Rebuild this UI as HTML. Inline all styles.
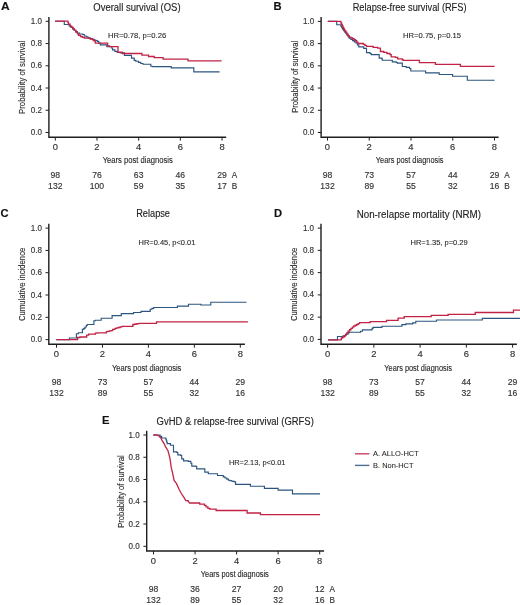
<!DOCTYPE html>
<html><head><meta charset="utf-8"><style>
html,body{margin:0;padding:0;background:#fff;overflow:hidden;}
svg{display:block;font-family:"Liberation Sans", sans-serif;filter:blur(0.4px);}
text{stroke:currentColor;stroke-width:0.14px;}
</style></head><body>
<svg width="520" height="605" viewBox="0 0 520 605">
<rect width="520" height="605" fill="#fff"/>
<text x="1.10" y="9.80" font-size="11.2" text-anchor="start" font-weight="bold" fill="#111" color="#111" textLength="8.70" lengthAdjust="spacingAndGlyphs">A</text>
<text x="273.60" y="10.00" font-size="11.2" text-anchor="start" font-weight="bold" fill="#111" color="#111">B</text>
<text x="0.60" y="216.90" font-size="11.2" text-anchor="start" font-weight="bold" fill="#111" color="#111">C</text>
<text x="274.00" y="216.60" font-size="11.2" text-anchor="start" font-weight="bold" fill="#111" color="#111">D</text>
<text x="102.00" y="423.80" font-size="11.2" text-anchor="start" font-weight="bold" fill="#111" color="#111">E</text>
<text x="93.30" y="11.00" font-size="10.0" text-anchor="start" font-weight="normal" fill="#222" color="#222" textLength="87.30" lengthAdjust="spacingAndGlyphs" style="stroke-width:0.12px">Overall survival (OS)</text>
<text x="352.70" y="11.00" font-size="10.0" text-anchor="start" font-weight="normal" fill="#222" color="#222" textLength="113.80" lengthAdjust="spacingAndGlyphs" style="stroke-width:0.12px">Relapse-free survival (RFS)</text>
<text x="136.20" y="217.20" font-size="10.0" text-anchor="start" font-weight="normal" fill="#222" color="#222" textLength="33.80" lengthAdjust="spacingAndGlyphs" style="stroke-width:0.12px">Relapse</text>
<text x="356.70" y="217.90" font-size="10.0" text-anchor="start" font-weight="normal" fill="#222" color="#222" textLength="124.30" lengthAdjust="spacingAndGlyphs" style="stroke-width:0.12px">Non-relapse mortality (NRM)</text>
<text x="156.60" y="424.60" font-size="10.0" text-anchor="start" font-weight="normal" fill="#222" color="#222" textLength="157.20" lengthAdjust="spacingAndGlyphs" style="stroke-width:0.12px">GvHD &amp; relapse-free survival (GRFS)</text>
<text x="108.00" y="37.80" font-size="6.9" text-anchor="start" font-weight="normal" fill="#2a2a2a" color="#2a2a2a" textLength="58.20" lengthAdjust="spacingAndGlyphs" style="stroke-width:0.1px">HR=0.78, p=0.26</text>
<text x="403.10" y="38.10" font-size="6.9" text-anchor="start" font-weight="normal" fill="#2a2a2a" color="#2a2a2a" textLength="58.00" lengthAdjust="spacingAndGlyphs" style="stroke-width:0.1px">HR=0.75, p=0.15</text>
<text x="138.50" y="244.90" font-size="6.9" text-anchor="start" font-weight="normal" fill="#2a2a2a" color="#2a2a2a" textLength="56.90" lengthAdjust="spacingAndGlyphs" style="stroke-width:0.1px">HR=0.45, p&lt;0.01</text>
<text x="410.50" y="244.90" font-size="6.9" text-anchor="start" font-weight="normal" fill="#2a2a2a" color="#2a2a2a" textLength="57.20" lengthAdjust="spacingAndGlyphs" style="stroke-width:0.1px">HR=1.35, p=0.29</text>
<text x="228.90" y="465.00" font-size="6.9" text-anchor="start" font-weight="normal" fill="#2a2a2a" color="#2a2a2a" textLength="56.50" lengthAdjust="spacingAndGlyphs" style="stroke-width:0.1px">HR=2.13, p&lt;0.01</text>
<text transform="translate(25.00,113.90) rotate(-90)" x="0" y="0" font-size="9.8" fill="#2a2a2a" color="#2a2a2a" textLength="73.20" lengthAdjust="spacingAndGlyphs">Probability of survival</text>
<text transform="translate(298.00,112.80) rotate(-90)" x="0" y="0" font-size="9.8" fill="#2a2a2a" color="#2a2a2a" textLength="72.10" lengthAdjust="spacingAndGlyphs">Probability of survival</text>
<text transform="translate(25.20,321.10) rotate(-90)" x="0" y="0" font-size="9.8" fill="#2a2a2a" color="#2a2a2a" textLength="73.40" lengthAdjust="spacingAndGlyphs">Cumulative incidence</text>
<text transform="translate(297.40,321.10) rotate(-90)" x="0" y="0" font-size="9.8" fill="#2a2a2a" color="#2a2a2a" textLength="73.40" lengthAdjust="spacingAndGlyphs">Cumulative incidence</text>
<text transform="translate(123.90,527.80) rotate(-90)" x="0" y="0" font-size="9.8" fill="#2a2a2a" color="#2a2a2a" textLength="72.40" lengthAdjust="spacingAndGlyphs">Probability of survival</text>
<text x="102.70" y="163.20" font-size="9.6" text-anchor="start" font-weight="normal" fill="#2a2a2a" color="#2a2a2a" textLength="70.00" lengthAdjust="spacingAndGlyphs">Years post diagnosis</text>
<text x="375.80" y="163.40" font-size="9.6" text-anchor="start" font-weight="normal" fill="#2a2a2a" color="#2a2a2a" textLength="67.70" lengthAdjust="spacingAndGlyphs">Years post diagnosis</text>
<text x="111.90" y="370.50" font-size="9.6" text-anchor="start" font-weight="normal" fill="#2a2a2a" color="#2a2a2a" textLength="69.50" lengthAdjust="spacingAndGlyphs">Years post diagnosis</text>
<text x="384.30" y="370.60" font-size="9.6" text-anchor="start" font-weight="normal" fill="#2a2a2a" color="#2a2a2a" textLength="67.70" lengthAdjust="spacingAndGlyphs">Years post diagnosis</text>
<text x="200.80" y="577.10" font-size="9.6" text-anchor="start" font-weight="normal" fill="#2a2a2a" color="#2a2a2a" textLength="68.00" lengthAdjust="spacingAndGlyphs">Years post diagnosis</text>
<path d="M48.90,16.90V137.20H226.20" fill="none" stroke="#1e1e1e" stroke-width="1.4" stroke-linecap="butt"/>
<path d="M45.60,132.50H48.90" stroke="#1e1e1e" stroke-width="1"/>
<text x="42.00" y="135.00" font-size="8.4" text-anchor="end" font-weight="normal" fill="#333" color="#333" textLength="11.21" lengthAdjust="spacingAndGlyphs">0.0</text>
<path d="M45.60,110.26H48.90" stroke="#1e1e1e" stroke-width="1"/>
<text x="42.00" y="112.76" font-size="8.4" text-anchor="end" font-weight="normal" fill="#333" color="#333" textLength="11.21" lengthAdjust="spacingAndGlyphs">0.2</text>
<path d="M45.60,88.02H48.90" stroke="#1e1e1e" stroke-width="1"/>
<text x="42.00" y="90.52" font-size="8.4" text-anchor="end" font-weight="normal" fill="#333" color="#333" textLength="11.21" lengthAdjust="spacingAndGlyphs">0.4</text>
<path d="M45.60,65.78H48.90" stroke="#1e1e1e" stroke-width="1"/>
<text x="42.00" y="68.28" font-size="8.4" text-anchor="end" font-weight="normal" fill="#333" color="#333" textLength="11.21" lengthAdjust="spacingAndGlyphs">0.6</text>
<path d="M45.60,43.54H48.90" stroke="#1e1e1e" stroke-width="1"/>
<text x="42.00" y="46.04" font-size="8.4" text-anchor="end" font-weight="normal" fill="#333" color="#333" textLength="11.21" lengthAdjust="spacingAndGlyphs">0.8</text>
<path d="M45.60,21.30H48.90" stroke="#1e1e1e" stroke-width="1"/>
<text x="42.00" y="23.80" font-size="8.4" text-anchor="end" font-weight="normal" fill="#333" color="#333" textLength="11.21" lengthAdjust="spacingAndGlyphs">1.0</text>
<path d="M55.30,137.20V140.60" stroke="#1e1e1e" stroke-width="1"/>
<text x="55.30" y="149.90" font-size="8.4" text-anchor="middle" font-weight="normal" fill="#333" color="#333" textLength="5.23" lengthAdjust="spacingAndGlyphs">0</text>
<path d="M96.98,137.20V140.60" stroke="#1e1e1e" stroke-width="1"/>
<text x="96.98" y="149.90" font-size="8.4" text-anchor="middle" font-weight="normal" fill="#333" color="#333" textLength="5.23" lengthAdjust="spacingAndGlyphs">2</text>
<path d="M138.66,137.20V140.60" stroke="#1e1e1e" stroke-width="1"/>
<text x="138.66" y="149.90" font-size="8.4" text-anchor="middle" font-weight="normal" fill="#333" color="#333" textLength="5.23" lengthAdjust="spacingAndGlyphs">4</text>
<path d="M180.34,137.20V140.60" stroke="#1e1e1e" stroke-width="1"/>
<text x="180.34" y="149.90" font-size="8.4" text-anchor="middle" font-weight="normal" fill="#333" color="#333" textLength="5.23" lengthAdjust="spacingAndGlyphs">6</text>
<path d="M222.02,137.20V140.60" stroke="#1e1e1e" stroke-width="1"/>
<text x="222.02" y="149.90" font-size="8.4" text-anchor="middle" font-weight="normal" fill="#333" color="#333" textLength="5.23" lengthAdjust="spacingAndGlyphs">8</text>
<text x="55.30" y="177.80" font-size="8.2" text-anchor="middle" font-weight="normal" fill="#333" color="#333" textLength="9.58" lengthAdjust="spacingAndGlyphs">98</text>
<text x="55.30" y="189.30" font-size="8.2" text-anchor="middle" font-weight="normal" fill="#333" color="#333" textLength="14.37" lengthAdjust="spacingAndGlyphs">132</text>
<text x="96.98" y="177.80" font-size="8.2" text-anchor="middle" font-weight="normal" fill="#333" color="#333" textLength="9.58" lengthAdjust="spacingAndGlyphs">76</text>
<text x="96.98" y="189.30" font-size="8.2" text-anchor="middle" font-weight="normal" fill="#333" color="#333" textLength="14.37" lengthAdjust="spacingAndGlyphs">100</text>
<text x="138.66" y="177.80" font-size="8.2" text-anchor="middle" font-weight="normal" fill="#333" color="#333" textLength="9.58" lengthAdjust="spacingAndGlyphs">63</text>
<text x="138.66" y="189.30" font-size="8.2" text-anchor="middle" font-weight="normal" fill="#333" color="#333" textLength="9.58" lengthAdjust="spacingAndGlyphs">59</text>
<text x="180.34" y="177.80" font-size="8.2" text-anchor="middle" font-weight="normal" fill="#333" color="#333" textLength="9.58" lengthAdjust="spacingAndGlyphs">46</text>
<text x="180.34" y="189.30" font-size="8.2" text-anchor="middle" font-weight="normal" fill="#333" color="#333" textLength="9.58" lengthAdjust="spacingAndGlyphs">35</text>
<text x="222.02" y="177.80" font-size="8.2" text-anchor="middle" font-weight="normal" fill="#333" color="#333" textLength="9.58" lengthAdjust="spacingAndGlyphs">29</text>
<text x="222.02" y="189.30" font-size="8.2" text-anchor="middle" font-weight="normal" fill="#333" color="#333" textLength="9.58" lengthAdjust="spacingAndGlyphs">17</text>
<text x="231.82" y="177.80" font-size="8.2" text-anchor="start" font-weight="normal" fill="#333" color="#333">A</text>
<text x="231.82" y="189.30" font-size="8.2" text-anchor="start" font-weight="normal" fill="#333" color="#333">B</text>
<path d="M321.10,16.90V137.20H498.60" fill="none" stroke="#1e1e1e" stroke-width="1.4" stroke-linecap="butt"/>
<path d="M317.80,132.50H321.10" stroke="#1e1e1e" stroke-width="1"/>
<text x="314.20" y="135.00" font-size="8.4" text-anchor="end" font-weight="normal" fill="#333" color="#333" textLength="11.21" lengthAdjust="spacingAndGlyphs">0.0</text>
<path d="M317.80,110.28H321.10" stroke="#1e1e1e" stroke-width="1"/>
<text x="314.20" y="112.78" font-size="8.4" text-anchor="end" font-weight="normal" fill="#333" color="#333" textLength="11.21" lengthAdjust="spacingAndGlyphs">0.2</text>
<path d="M317.80,88.06H321.10" stroke="#1e1e1e" stroke-width="1"/>
<text x="314.20" y="90.56" font-size="8.4" text-anchor="end" font-weight="normal" fill="#333" color="#333" textLength="11.21" lengthAdjust="spacingAndGlyphs">0.4</text>
<path d="M317.80,65.84H321.10" stroke="#1e1e1e" stroke-width="1"/>
<text x="314.20" y="68.34" font-size="8.4" text-anchor="end" font-weight="normal" fill="#333" color="#333" textLength="11.21" lengthAdjust="spacingAndGlyphs">0.6</text>
<path d="M317.80,43.62H321.10" stroke="#1e1e1e" stroke-width="1"/>
<text x="314.20" y="46.12" font-size="8.4" text-anchor="end" font-weight="normal" fill="#333" color="#333" textLength="11.21" lengthAdjust="spacingAndGlyphs">0.8</text>
<path d="M317.80,21.40H321.10" stroke="#1e1e1e" stroke-width="1"/>
<text x="314.20" y="23.90" font-size="8.4" text-anchor="end" font-weight="normal" fill="#333" color="#333" textLength="11.21" lengthAdjust="spacingAndGlyphs">1.0</text>
<path d="M327.50,137.20V140.60" stroke="#1e1e1e" stroke-width="1"/>
<text x="327.50" y="149.90" font-size="8.4" text-anchor="middle" font-weight="normal" fill="#333" color="#333" textLength="5.23" lengthAdjust="spacingAndGlyphs">0</text>
<path d="M369.25,137.20V140.60" stroke="#1e1e1e" stroke-width="1"/>
<text x="369.25" y="149.90" font-size="8.4" text-anchor="middle" font-weight="normal" fill="#333" color="#333" textLength="5.23" lengthAdjust="spacingAndGlyphs">2</text>
<path d="M411.00,137.20V140.60" stroke="#1e1e1e" stroke-width="1"/>
<text x="411.00" y="149.90" font-size="8.4" text-anchor="middle" font-weight="normal" fill="#333" color="#333" textLength="5.23" lengthAdjust="spacingAndGlyphs">4</text>
<path d="M452.75,137.20V140.60" stroke="#1e1e1e" stroke-width="1"/>
<text x="452.75" y="149.90" font-size="8.4" text-anchor="middle" font-weight="normal" fill="#333" color="#333" textLength="5.23" lengthAdjust="spacingAndGlyphs">6</text>
<path d="M494.50,137.20V140.60" stroke="#1e1e1e" stroke-width="1"/>
<text x="494.50" y="149.90" font-size="8.4" text-anchor="middle" font-weight="normal" fill="#333" color="#333" textLength="5.23" lengthAdjust="spacingAndGlyphs">8</text>
<text x="327.50" y="177.80" font-size="8.2" text-anchor="middle" font-weight="normal" fill="#333" color="#333" textLength="9.58" lengthAdjust="spacingAndGlyphs">98</text>
<text x="327.50" y="189.30" font-size="8.2" text-anchor="middle" font-weight="normal" fill="#333" color="#333" textLength="14.37" lengthAdjust="spacingAndGlyphs">132</text>
<text x="369.25" y="177.80" font-size="8.2" text-anchor="middle" font-weight="normal" fill="#333" color="#333" textLength="9.58" lengthAdjust="spacingAndGlyphs">73</text>
<text x="369.25" y="189.30" font-size="8.2" text-anchor="middle" font-weight="normal" fill="#333" color="#333" textLength="9.58" lengthAdjust="spacingAndGlyphs">89</text>
<text x="411.00" y="177.80" font-size="8.2" text-anchor="middle" font-weight="normal" fill="#333" color="#333" textLength="9.58" lengthAdjust="spacingAndGlyphs">57</text>
<text x="411.00" y="189.30" font-size="8.2" text-anchor="middle" font-weight="normal" fill="#333" color="#333" textLength="9.58" lengthAdjust="spacingAndGlyphs">55</text>
<text x="452.75" y="177.80" font-size="8.2" text-anchor="middle" font-weight="normal" fill="#333" color="#333" textLength="9.58" lengthAdjust="spacingAndGlyphs">44</text>
<text x="452.75" y="189.30" font-size="8.2" text-anchor="middle" font-weight="normal" fill="#333" color="#333" textLength="9.58" lengthAdjust="spacingAndGlyphs">32</text>
<text x="494.50" y="177.80" font-size="8.2" text-anchor="middle" font-weight="normal" fill="#333" color="#333" textLength="9.58" lengthAdjust="spacingAndGlyphs">29</text>
<text x="494.50" y="189.30" font-size="8.2" text-anchor="middle" font-weight="normal" fill="#333" color="#333" textLength="9.58" lengthAdjust="spacingAndGlyphs">16</text>
<text x="504.30" y="177.80" font-size="8.2" text-anchor="start" font-weight="normal" fill="#333" color="#333">A</text>
<text x="504.30" y="189.30" font-size="8.2" text-anchor="start" font-weight="normal" fill="#333" color="#333">B</text>
<path d="M48.80,223.80V344.30H244.90" fill="none" stroke="#1e1e1e" stroke-width="1.4" stroke-linecap="butt"/>
<path d="M45.50,339.60H48.80" stroke="#1e1e1e" stroke-width="1"/>
<text x="41.90" y="342.10" font-size="8.4" text-anchor="end" font-weight="normal" fill="#333" color="#333" textLength="11.21" lengthAdjust="spacingAndGlyphs">0.0</text>
<path d="M45.50,317.30H48.80" stroke="#1e1e1e" stroke-width="1"/>
<text x="41.90" y="319.80" font-size="8.4" text-anchor="end" font-weight="normal" fill="#333" color="#333" textLength="11.21" lengthAdjust="spacingAndGlyphs">0.2</text>
<path d="M45.50,295.00H48.80" stroke="#1e1e1e" stroke-width="1"/>
<text x="41.90" y="297.50" font-size="8.4" text-anchor="end" font-weight="normal" fill="#333" color="#333" textLength="11.21" lengthAdjust="spacingAndGlyphs">0.4</text>
<path d="M45.50,272.70H48.80" stroke="#1e1e1e" stroke-width="1"/>
<text x="41.90" y="275.20" font-size="8.4" text-anchor="end" font-weight="normal" fill="#333" color="#333" textLength="11.21" lengthAdjust="spacingAndGlyphs">0.6</text>
<path d="M45.50,250.40H48.80" stroke="#1e1e1e" stroke-width="1"/>
<text x="41.90" y="252.90" font-size="8.4" text-anchor="end" font-weight="normal" fill="#333" color="#333" textLength="11.21" lengthAdjust="spacingAndGlyphs">0.8</text>
<path d="M45.50,228.10H48.80" stroke="#1e1e1e" stroke-width="1"/>
<text x="41.90" y="230.60" font-size="8.4" text-anchor="end" font-weight="normal" fill="#333" color="#333" textLength="11.21" lengthAdjust="spacingAndGlyphs">1.0</text>
<path d="M56.50,344.30V347.70" stroke="#1e1e1e" stroke-width="1"/>
<text x="56.50" y="357.00" font-size="8.4" text-anchor="middle" font-weight="normal" fill="#333" color="#333" textLength="5.23" lengthAdjust="spacingAndGlyphs">0</text>
<path d="M102.45,344.30V347.70" stroke="#1e1e1e" stroke-width="1"/>
<text x="102.45" y="357.00" font-size="8.4" text-anchor="middle" font-weight="normal" fill="#333" color="#333" textLength="5.23" lengthAdjust="spacingAndGlyphs">2</text>
<path d="M148.40,344.30V347.70" stroke="#1e1e1e" stroke-width="1"/>
<text x="148.40" y="357.00" font-size="8.4" text-anchor="middle" font-weight="normal" fill="#333" color="#333" textLength="5.23" lengthAdjust="spacingAndGlyphs">4</text>
<path d="M194.35,344.30V347.70" stroke="#1e1e1e" stroke-width="1"/>
<text x="194.35" y="357.00" font-size="8.4" text-anchor="middle" font-weight="normal" fill="#333" color="#333" textLength="5.23" lengthAdjust="spacingAndGlyphs">6</text>
<path d="M240.30,344.30V347.70" stroke="#1e1e1e" stroke-width="1"/>
<text x="240.30" y="357.00" font-size="8.4" text-anchor="middle" font-weight="normal" fill="#333" color="#333" textLength="5.23" lengthAdjust="spacingAndGlyphs">8</text>
<text x="56.50" y="384.90" font-size="8.2" text-anchor="middle" font-weight="normal" fill="#333" color="#333" textLength="9.58" lengthAdjust="spacingAndGlyphs">98</text>
<text x="56.50" y="396.40" font-size="8.2" text-anchor="middle" font-weight="normal" fill="#333" color="#333" textLength="14.37" lengthAdjust="spacingAndGlyphs">132</text>
<text x="102.45" y="384.90" font-size="8.2" text-anchor="middle" font-weight="normal" fill="#333" color="#333" textLength="9.58" lengthAdjust="spacingAndGlyphs">73</text>
<text x="102.45" y="396.40" font-size="8.2" text-anchor="middle" font-weight="normal" fill="#333" color="#333" textLength="9.58" lengthAdjust="spacingAndGlyphs">89</text>
<text x="148.40" y="384.90" font-size="8.2" text-anchor="middle" font-weight="normal" fill="#333" color="#333" textLength="9.58" lengthAdjust="spacingAndGlyphs">57</text>
<text x="148.40" y="396.40" font-size="8.2" text-anchor="middle" font-weight="normal" fill="#333" color="#333" textLength="9.58" lengthAdjust="spacingAndGlyphs">55</text>
<text x="194.35" y="384.90" font-size="8.2" text-anchor="middle" font-weight="normal" fill="#333" color="#333" textLength="9.58" lengthAdjust="spacingAndGlyphs">44</text>
<text x="194.35" y="396.40" font-size="8.2" text-anchor="middle" font-weight="normal" fill="#333" color="#333" textLength="9.58" lengthAdjust="spacingAndGlyphs">32</text>
<text x="240.30" y="384.90" font-size="8.2" text-anchor="middle" font-weight="normal" fill="#333" color="#333" textLength="9.58" lengthAdjust="spacingAndGlyphs">29</text>
<text x="240.30" y="396.40" font-size="8.2" text-anchor="middle" font-weight="normal" fill="#333" color="#333" textLength="9.58" lengthAdjust="spacingAndGlyphs">16</text>
<path d="M321.00,223.80V344.20H516.90" fill="none" stroke="#1e1e1e" stroke-width="1.4" stroke-linecap="butt"/>
<path d="M317.70,339.40H321.00" stroke="#1e1e1e" stroke-width="1"/>
<text x="314.10" y="341.90" font-size="8.4" text-anchor="end" font-weight="normal" fill="#333" color="#333" textLength="11.21" lengthAdjust="spacingAndGlyphs">0.0</text>
<path d="M317.70,317.14H321.00" stroke="#1e1e1e" stroke-width="1"/>
<text x="314.10" y="319.64" font-size="8.4" text-anchor="end" font-weight="normal" fill="#333" color="#333" textLength="11.21" lengthAdjust="spacingAndGlyphs">0.2</text>
<path d="M317.70,294.88H321.00" stroke="#1e1e1e" stroke-width="1"/>
<text x="314.10" y="297.38" font-size="8.4" text-anchor="end" font-weight="normal" fill="#333" color="#333" textLength="11.21" lengthAdjust="spacingAndGlyphs">0.4</text>
<path d="M317.70,272.62H321.00" stroke="#1e1e1e" stroke-width="1"/>
<text x="314.10" y="275.12" font-size="8.4" text-anchor="end" font-weight="normal" fill="#333" color="#333" textLength="11.21" lengthAdjust="spacingAndGlyphs">0.6</text>
<path d="M317.70,250.36H321.00" stroke="#1e1e1e" stroke-width="1"/>
<text x="314.10" y="252.86" font-size="8.4" text-anchor="end" font-weight="normal" fill="#333" color="#333" textLength="11.21" lengthAdjust="spacingAndGlyphs">0.8</text>
<path d="M317.70,228.10H321.00" stroke="#1e1e1e" stroke-width="1"/>
<text x="314.10" y="230.60" font-size="8.4" text-anchor="end" font-weight="normal" fill="#333" color="#333" textLength="11.21" lengthAdjust="spacingAndGlyphs">1.0</text>
<path d="M327.60,344.20V347.60" stroke="#1e1e1e" stroke-width="1"/>
<text x="327.60" y="356.90" font-size="8.4" text-anchor="middle" font-weight="normal" fill="#333" color="#333" textLength="5.23" lengthAdjust="spacingAndGlyphs">0</text>
<path d="M373.85,344.20V347.60" stroke="#1e1e1e" stroke-width="1"/>
<text x="373.85" y="356.90" font-size="8.4" text-anchor="middle" font-weight="normal" fill="#333" color="#333" textLength="5.23" lengthAdjust="spacingAndGlyphs">2</text>
<path d="M420.10,344.20V347.60" stroke="#1e1e1e" stroke-width="1"/>
<text x="420.10" y="356.90" font-size="8.4" text-anchor="middle" font-weight="normal" fill="#333" color="#333" textLength="5.23" lengthAdjust="spacingAndGlyphs">4</text>
<path d="M466.35,344.20V347.60" stroke="#1e1e1e" stroke-width="1"/>
<text x="466.35" y="356.90" font-size="8.4" text-anchor="middle" font-weight="normal" fill="#333" color="#333" textLength="5.23" lengthAdjust="spacingAndGlyphs">6</text>
<path d="M512.60,344.20V347.60" stroke="#1e1e1e" stroke-width="1"/>
<text x="512.60" y="356.90" font-size="8.4" text-anchor="middle" font-weight="normal" fill="#333" color="#333" textLength="5.23" lengthAdjust="spacingAndGlyphs">8</text>
<text x="327.60" y="384.80" font-size="8.2" text-anchor="middle" font-weight="normal" fill="#333" color="#333" textLength="9.58" lengthAdjust="spacingAndGlyphs">98</text>
<text x="327.60" y="396.30" font-size="8.2" text-anchor="middle" font-weight="normal" fill="#333" color="#333" textLength="14.37" lengthAdjust="spacingAndGlyphs">132</text>
<text x="373.85" y="384.80" font-size="8.2" text-anchor="middle" font-weight="normal" fill="#333" color="#333" textLength="9.58" lengthAdjust="spacingAndGlyphs">73</text>
<text x="373.85" y="396.30" font-size="8.2" text-anchor="middle" font-weight="normal" fill="#333" color="#333" textLength="9.58" lengthAdjust="spacingAndGlyphs">89</text>
<text x="420.10" y="384.80" font-size="8.2" text-anchor="middle" font-weight="normal" fill="#333" color="#333" textLength="9.58" lengthAdjust="spacingAndGlyphs">57</text>
<text x="420.10" y="396.30" font-size="8.2" text-anchor="middle" font-weight="normal" fill="#333" color="#333" textLength="9.58" lengthAdjust="spacingAndGlyphs">55</text>
<text x="466.35" y="384.80" font-size="8.2" text-anchor="middle" font-weight="normal" fill="#333" color="#333" textLength="9.58" lengthAdjust="spacingAndGlyphs">44</text>
<text x="466.35" y="396.30" font-size="8.2" text-anchor="middle" font-weight="normal" fill="#333" color="#333" textLength="9.58" lengthAdjust="spacingAndGlyphs">32</text>
<text x="512.60" y="384.80" font-size="8.2" text-anchor="middle" font-weight="normal" fill="#333" color="#333" textLength="9.58" lengthAdjust="spacingAndGlyphs">29</text>
<text x="512.60" y="396.30" font-size="8.2" text-anchor="middle" font-weight="normal" fill="#333" color="#333" textLength="9.58" lengthAdjust="spacingAndGlyphs">16</text>
<path d="M146.70,430.70V551.00H324.10" fill="none" stroke="#1e1e1e" stroke-width="1.4" stroke-linecap="butt"/>
<path d="M143.40,546.30H146.70" stroke="#1e1e1e" stroke-width="1"/>
<text x="139.80" y="548.80" font-size="8.4" text-anchor="end" font-weight="normal" fill="#333" color="#333" textLength="11.21" lengthAdjust="spacingAndGlyphs">0.0</text>
<path d="M143.40,524.04H146.70" stroke="#1e1e1e" stroke-width="1"/>
<text x="139.80" y="526.54" font-size="8.4" text-anchor="end" font-weight="normal" fill="#333" color="#333" textLength="11.21" lengthAdjust="spacingAndGlyphs">0.2</text>
<path d="M143.40,501.78H146.70" stroke="#1e1e1e" stroke-width="1"/>
<text x="139.80" y="504.28" font-size="8.4" text-anchor="end" font-weight="normal" fill="#333" color="#333" textLength="11.21" lengthAdjust="spacingAndGlyphs">0.4</text>
<path d="M143.40,479.52H146.70" stroke="#1e1e1e" stroke-width="1"/>
<text x="139.80" y="482.02" font-size="8.4" text-anchor="end" font-weight="normal" fill="#333" color="#333" textLength="11.21" lengthAdjust="spacingAndGlyphs">0.6</text>
<path d="M143.40,457.26H146.70" stroke="#1e1e1e" stroke-width="1"/>
<text x="139.80" y="459.76" font-size="8.4" text-anchor="end" font-weight="normal" fill="#333" color="#333" textLength="11.21" lengthAdjust="spacingAndGlyphs">0.8</text>
<path d="M143.40,435.00H146.70" stroke="#1e1e1e" stroke-width="1"/>
<text x="139.80" y="437.50" font-size="8.4" text-anchor="end" font-weight="normal" fill="#333" color="#333" textLength="11.21" lengthAdjust="spacingAndGlyphs">1.0</text>
<path d="M153.50,551.00V554.40" stroke="#1e1e1e" stroke-width="1"/>
<text x="153.50" y="563.70" font-size="8.4" text-anchor="middle" font-weight="normal" fill="#333" color="#333" textLength="5.23" lengthAdjust="spacingAndGlyphs">0</text>
<path d="M195.05,551.00V554.40" stroke="#1e1e1e" stroke-width="1"/>
<text x="195.05" y="563.70" font-size="8.4" text-anchor="middle" font-weight="normal" fill="#333" color="#333" textLength="5.23" lengthAdjust="spacingAndGlyphs">2</text>
<path d="M236.60,551.00V554.40" stroke="#1e1e1e" stroke-width="1"/>
<text x="236.60" y="563.70" font-size="8.4" text-anchor="middle" font-weight="normal" fill="#333" color="#333" textLength="5.23" lengthAdjust="spacingAndGlyphs">4</text>
<path d="M278.15,551.00V554.40" stroke="#1e1e1e" stroke-width="1"/>
<text x="278.15" y="563.70" font-size="8.4" text-anchor="middle" font-weight="normal" fill="#333" color="#333" textLength="5.23" lengthAdjust="spacingAndGlyphs">6</text>
<path d="M319.70,551.00V554.40" stroke="#1e1e1e" stroke-width="1"/>
<text x="319.70" y="563.70" font-size="8.4" text-anchor="middle" font-weight="normal" fill="#333" color="#333" textLength="5.23" lengthAdjust="spacingAndGlyphs">8</text>
<text x="153.50" y="591.60" font-size="8.2" text-anchor="middle" font-weight="normal" fill="#333" color="#333" textLength="9.58" lengthAdjust="spacingAndGlyphs">98</text>
<text x="153.50" y="603.10" font-size="8.2" text-anchor="middle" font-weight="normal" fill="#333" color="#333" textLength="14.37" lengthAdjust="spacingAndGlyphs">132</text>
<text x="195.05" y="591.60" font-size="8.2" text-anchor="middle" font-weight="normal" fill="#333" color="#333" textLength="9.58" lengthAdjust="spacingAndGlyphs">36</text>
<text x="195.05" y="603.10" font-size="8.2" text-anchor="middle" font-weight="normal" fill="#333" color="#333" textLength="9.58" lengthAdjust="spacingAndGlyphs">89</text>
<text x="236.60" y="591.60" font-size="8.2" text-anchor="middle" font-weight="normal" fill="#333" color="#333" textLength="9.58" lengthAdjust="spacingAndGlyphs">27</text>
<text x="236.60" y="603.10" font-size="8.2" text-anchor="middle" font-weight="normal" fill="#333" color="#333" textLength="9.58" lengthAdjust="spacingAndGlyphs">55</text>
<text x="278.15" y="591.60" font-size="8.2" text-anchor="middle" font-weight="normal" fill="#333" color="#333" textLength="9.58" lengthAdjust="spacingAndGlyphs">20</text>
<text x="278.15" y="603.10" font-size="8.2" text-anchor="middle" font-weight="normal" fill="#333" color="#333" textLength="9.58" lengthAdjust="spacingAndGlyphs">32</text>
<text x="319.70" y="591.60" font-size="8.2" text-anchor="middle" font-weight="normal" fill="#333" color="#333" textLength="9.58" lengthAdjust="spacingAndGlyphs">12</text>
<text x="319.70" y="603.10" font-size="8.2" text-anchor="middle" font-weight="normal" fill="#333" color="#333" textLength="9.58" lengthAdjust="spacingAndGlyphs">16</text>
<text x="329.50" y="591.60" font-size="8.2" text-anchor="start" font-weight="normal" fill="#333" color="#333">A</text>
<text x="329.50" y="603.10" font-size="8.2" text-anchor="start" font-weight="normal" fill="#333" color="#333">B</text>
<path d="M55.10,21.20H64.30V24.50H67.40H69.12V25.95H70.85V27.40H72.58V28.85H74.30V30.30H75.85V31.65H77.40V33.00H79.50V34.00H82.80V34.50H84.30V36.00H86.15V36.90H88.00V37.80H89.54V38.34H91.08V38.88H92.62V39.42H94.16V39.96H95.70V40.50H97.20V41.30H98.75V43.05H100.30V44.80H106.80V46.70H111.10H111.85V48.25H112.60V49.80H114.90V51.30H117.20V52.50H120.30V52.80H124.40V55.40H131.50V58.10H134.20V60.40H135.80V61.20H138.50V62.30H140.80V63.50H143.00V64.20H150.80V66.20H152.30V66.60H171.20V67.80H193.80V71.90H219.60" fill="none" stroke="#2c5580" stroke-width="1.15" stroke-linejoin="miter"/>
<path d="M55.10,21.20H67.40H67.95V22.70H68.50V24.20H70.10V26.10H71.65V27.45H73.20V28.80H74.30V30.30H75.85V32.05H77.40V33.80H78.50V35.30H80.50V36.50H82.40V37.35H84.30V38.20H88.00H90.30V39.00H92.60V39.80H93.95V40.75H95.30V41.70V43.10H107.60V45.90H109.50V46.70H118.00V52.10H122.30V53.50H141.90V55.20H148.50V56.50H154.20V57.70H163.10V59.20H188.00V60.80H221.60" fill="none" stroke="#c22244" stroke-width="1.3" stroke-linejoin="miter"/>
<path d="M327.80,21.40H336.70V24.70H340.10H340.90V26.17H341.70V27.63H342.50V29.10H343.62V30.62H344.73V32.13H345.85V33.65H346.97V35.17H348.08V36.68H349.20V38.20H350.90V39.40H352.60V40.60H354.30V41.80H356.00V43.00H357.40V44.90H358.80V46.80H363.70V48.30H366.50V52.60H370.00V53.50H371.20V54.60H379.20V58.10H381.90V58.80H382.30V60.20H392.30V61.90H396.20V62.50H397.30V63.10H402.30V66.50H406.20V67.30H409.60V68.50H410.80V71.00H425.60V72.90H439.20V74.50H452.60V76.20H467.30V80.20H494.60" fill="none" stroke="#2c5580" stroke-width="1.15" stroke-linejoin="miter"/>
<path d="M327.80,21.40H340.10H340.82V22.92H341.53V24.43H342.25V25.95H342.97V27.47H343.68V28.98H344.40V30.50H345.60V32.17H346.80V33.85H348.00V35.53H349.20V37.20H350.90V37.95H352.60V38.70H354.05V39.65H355.50V40.60H356.70V42.05H357.90V43.50H361.70H363.30V44.47H364.90V45.43H366.50V46.40H373.10V47.30H377.70V48.10H380.40V51.50H383.80V52.30H386.90V53.50H390.00V54.60H391.20V56.90H395.40V57.30H397.70V58.80H402.30V59.60H403.10V60.40H419.40V62.70H435.40V64.40H460.40V66.30H494.60" fill="none" stroke="#c22244" stroke-width="1.3" stroke-linejoin="miter"/>
<path d="M56.30,339.60H69.40V338.00H76.40V333.70H78.40V332.70H82.40V329.30H83.80V328.40H85.05V326.95H86.30V325.50H87.20V324.50H93.90V320.70H95.40V320.20H101.20V318.20H112.10V315.60H121.30V313.60H133.50V312.50H141.00V311.30H150.20V309.20H151.95V308.35H153.70V307.50H177.40V306.10H188.50V304.20H200.80V305.00H210.80V302.20H246.50" fill="none" stroke="#2c5580" stroke-width="1.15" stroke-linejoin="miter"/>
<path d="M56.30,339.60H77.60V337.50H80.00V337.00H86.70V335.10H88.70V334.10H95.40V333.20H97.30V332.90H106.30V331.70H107.87V331.33H109.43V330.97H111.00V330.60H112.70V329.40H115.00V328.30H116.75V327.90H118.50V327.50H120.20V326.90H121.90V326.30H132.90V324.50H134.35V324.25H135.80V324.00H137.50V323.65H139.20V323.30H156.50V321.90H247.90" fill="none" stroke="#c22244" stroke-width="1.3" stroke-linejoin="miter"/>
<path d="M328.10,339.80H337.50V336.50H341.30H342.75V336.00H344.20V335.50H346.15V334.10H348.10V332.70H349.50V332.20H360.60V331.20H362.50V329.80H372.10V328.30H373.10V327.40H381.90V326.20H401.90V324.60H405.80V323.80H412.70V322.80H415.80V321.20H436.50V320.00H482.30V318.30H520.00" fill="none" stroke="#2c5580" stroke-width="1.15" stroke-linejoin="miter"/>
<path d="M328.10,339.80H341.30V338.00H342.75V337.00H344.20V336.00H345.50V334.40H346.80V332.80H348.10V331.20H349.55V329.75H351.00V328.30H352.40V327.15H353.80V326.00H355.25V325.25H356.70V324.50H358.15V323.55H359.60V322.60H370.20V321.60H386.50V320.30H398.10V318.20H404.20V316.60H431.20V315.40H448.10V314.30H475.30V312.50H513.50V310.20H520.00" fill="none" stroke="#c22244" stroke-width="1.3" stroke-linejoin="miter"/>
<path d="M153.30,435.00H160.00V436.30H161.60V438.00H165.90V439.30H166.33V440.73H166.77V442.17H167.20V443.60H169.50H170.50V445.20H173.50V446.20V451.80H176.80V452.50H177.80V454.80H180.70V455.50H181.70V458.80H183.60V460.80H188.40V461.30H190.80V463.20H191.80V466.10H196.10V466.50H196.70V468.80H204.80V472.10H208.30V473.70H217.50V475.50H223.30V476.90H225.03V478.00H226.77V479.10H228.50V480.20H229.93V480.60H231.35V481.00H232.77V481.40H234.20V481.80H235.60V484.40H250.40V486.20H264.40V488.30H278.10V490.10H292.50V493.80H320.00" fill="none" stroke="#2c5580" stroke-width="1.15" stroke-linejoin="miter"/>
<path d="M153.30,435.00H156.50L159.00,436.00L161.00,438.30L162.30,440.90L164.30,443.90L165.60,446.90L167.90,450.50L168.90,454.20L169.90,458.10L170.50,462.10L171.20,467.40L172.50,472.70L174.10,480.50L176.40,483.40L179.30,489.70L181.30,493.50L183.80,497.20L185.80,500.60H188.20V501.30L189.60,503.00H198.30H199.70V504.20H203.10H204.50V505.40H206.00V506.80H207.90V508.30H209.80V509.20H216.10V510.50H247.10V513.00H260.40V514.70H320.00" fill="none" stroke="#c22244" stroke-width="1.3" stroke-linejoin="miter"/>
<path d="M355,453.8H369.4" stroke="#c22244" stroke-width="1.4" opacity="0.85"/>
<path d="M355,465.4H369.4" stroke="#2c5580" stroke-width="1.4" opacity="0.85"/>
<text x="373.10" y="456.30" font-size="7.4" text-anchor="start" font-weight="normal" fill="#2a2a2a" color="#2a2a2a" textLength="45.70" lengthAdjust="spacingAndGlyphs" style="stroke-width:0.08px">A. ALLO-HCT</text>
<text x="373.10" y="467.80" font-size="7.4" text-anchor="start" font-weight="normal" fill="#2a2a2a" color="#2a2a2a" textLength="40.40" lengthAdjust="spacingAndGlyphs" style="stroke-width:0.08px">B. Non-HCT</text>
</svg>
</body></html>
